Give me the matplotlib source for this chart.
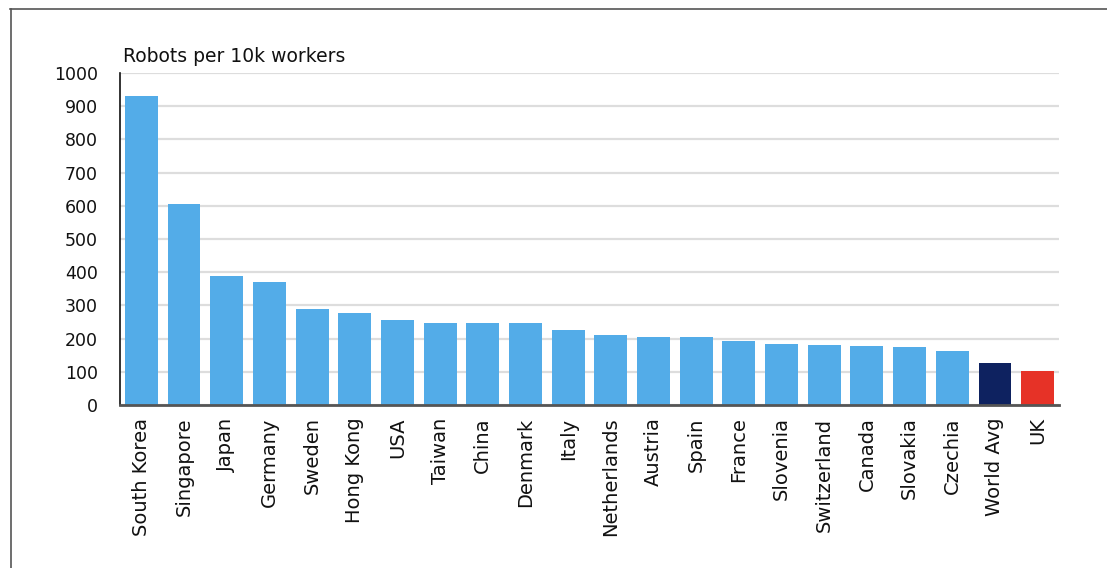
import numpy as np
import matplotlib
matplotlib.use("Agg")
import matplotlib.pyplot as plt
from matplotlib.lines import Line2D

plt.rcParams['font.family'] = ['DejaVu Sans']

# Robots per 10k manufacturing workers
countries = ["South Korea", "Singapore", "Japan", "Germany", "Sweden", "Hong Kong",
             "USA", "Taiwan", "China", "Denmark", "Italy", "Netherlands", "Austria",
             "Spain", "France", "Slovenia", "Switzerland", "Canada", "Slovakia",
             "Czechia", "World Avg", "UK"]
robots = [932, 605, 390, 371, 289, 277, 256, 247, 247, 247, 226, 211, 205,
          205, 193, 184, 181, 178, 175, 163, 126, 102]

yticks = [0, 100, 200, 300, 400, 500, 600, 700, 800, 900, 1000]

blue = "#53ACE8"
navy = "#0E2260"
red = "#E63227"
colors = [blue] * len(countries)
colors[countries.index("World Avg")] = navy
colors[countries.index("UK")] = red

fig = plt.figure(figsize=(11.07, 5.68), dpi=100)
ax = fig.add_axes([120/1107, 1 - 405/568, (1059-120)/1107, (405-73)/568])

x = np.arange(len(countries))
ax.bar(x, robots, width=0.77, color=colors, zorder=3)

ax.set_xlim(-0.5, len(countries) - 0.5)
ax.set_ylim(0, 1000)
ax.set_yticks(yticks)
ax.set_yticklabels([str(t) for t in yticks], fontsize=12.5, color="#111111")
ax.set_xticks(x)
ax.set_xticklabels(countries, rotation=90, fontsize=14, color="#111111")
ax.tick_params(axis='y', length=0, pad=16)
ax.tick_params(axis='x', length=0, pad=9)

ax.grid(axis='y', color="#DDDDDD", linewidth=1.6, zorder=0)
for s in ["top", "right"]:
    ax.spines[s].set_visible(False)
ax.spines["left"].set_color("#111111")
ax.spines["left"].set_linewidth(1.2)
ax.spines["bottom"].set_color("#555555")
ax.spines["bottom"].set_linewidth(2)
ax.spines["bottom"].set_zorder(4)

fig.text(123/1107, 1 - 62/568, "Robots per 10k workers", fontsize=13.5,
         color="#111111", ha="left", va="baseline")

# outer frame (top and left edges)
fig.add_artist(Line2D([10/1107, 1], [1 - 8.5/568, 1 - 8.5/568],
                      transform=fig.transFigure, color="#555555", linewidth=1.2))
fig.add_artist(Line2D([10.5/1107, 10.5/1107], [0, 1 - 8.5/568],
                      transform=fig.transFigure, color="#555555", linewidth=1.2))

fig.savefig("out.png", dpi=100)
